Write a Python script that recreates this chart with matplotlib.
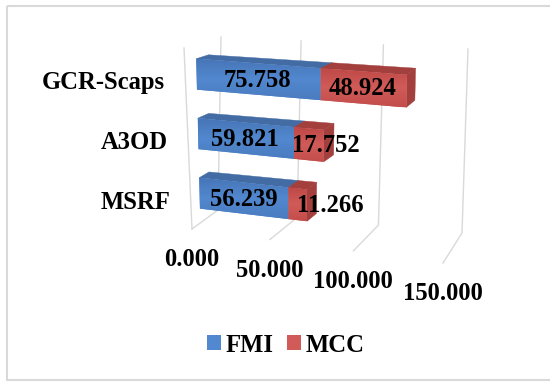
import numpy as np
import matplotlib.pyplot as plt
from matplotlib.patches import Polygon, Rectangle, Patch
from matplotlib.colors import LinearSegmentedColormap

# data
categories = ['GCR-Scaps', 'A3OD', 'MSRF']
fmi = [75.758, 59.821, 56.239]
mcc = [48.924, 17.752, 11.266]
ticks = [0, 50, 100, 150]
tick_labels = ['0.000', '50.000', '100.000', '150.000']
series = ['FMI', 'MCC']

VMAX = 150.0

# corners of the 3d plot box in pixel space (value 0 -> value VMAX)
FRONT_BOTTOM = np.array([[192, 229], [443, 263]], float)
FRONT_TOP = np.array([[184, 48], [447, 70]], float)
BACK_BOTTOM = np.array([[218, 210], [462, 233]], float)
BACK_TOP = np.array([[221, 37], [468, 49]], float)
WARP_FRONT, WARP_BACK = 0.90, 0.96

BAR_D0, BAR_D1 = 0.32, 0.66   # depth range of the bars
BAR_FRAC = 0.52               # bar height as share of a category slot

FONT = dict(family='Liberation Serif', weight='bold', size=17.7)
GRID_COLOR = '#D9D9D9'

BLUE = dict(front=('#4675B6', '#5288CF', '#4A7CC0'), top='#436CA4', end='#3A5F94')
RED = dict(front=('#BD4845', '#D15B58', '#C24D4A'), top='#A3403D', end='#A33F3C')


def warp(u, c):
    return c * u / (1 + (c - 1) * u)


def proj(v, h, d):
    """value, height (0..1), depth (0 front .. 1 back) -> pixel x, y"""
    u = v / VMAX
    uf, ub = warp(u, WARP_FRONT), warp(u, WARP_BACK)
    fb = FRONT_BOTTOM[0] + uf * (FRONT_BOTTOM[1] - FRONT_BOTTOM[0])
    ft = FRONT_TOP[0] + uf * (FRONT_TOP[1] - FRONT_TOP[0])
    bb = BACK_BOTTOM[0] + ub * (BACK_BOTTOM[1] - BACK_BOTTOM[0])
    bt = BACK_TOP[0] + ub * (BACK_TOP[1] - BACK_TOP[0])
    front = fb + h * (ft - fb)
    back = bb + h * (bt - bb)
    return front + d * (back - front)


def shaded_face(ax, pts, colors, z):
    poly = Polygon(pts, closed=True, facecolor=colors[1], edgecolor='none', zorder=z)
    ax.add_patch(poly)
    cmap = LinearSegmentedColormap.from_list('face', list(colors))
    grad = np.linspace(0, 1, 64)[:, None]
    xs, ys = pts[:, 0], pts[:, 1]
    im = ax.imshow(grad, cmap=cmap, aspect='auto', zorder=z + 0.1,
                   extent=(xs.min(), xs.max(), ys.max(), ys.min()))
    im.set_clip_path(poly)


def flat_face(ax, pts, color, z):
    ax.add_patch(Polygon(pts, closed=True, facecolor=color, edgecolor=color,
                         linewidth=0.3, zorder=z))


def draw_segment(ax, v0, v1, h0, h1, style, z):
    front = np.array([proj(v0, h0, BAR_D0), proj(v1, h0, BAR_D0),
                      proj(v1, h1, BAR_D0), proj(v0, h1, BAR_D0)])
    top = np.array([proj(v0, h1, BAR_D0), proj(v1, h1, BAR_D0),
                    proj(v1, h1, BAR_D1), proj(v0, h1, BAR_D1)])
    end = np.array([proj(v1, h0, BAR_D0), proj(v1, h1, BAR_D0),
                    proj(v1, h1, BAR_D1), proj(v1, h0, BAR_D1)])
    flat_face(ax, end, style['end'], z)
    flat_face(ax, top, style['top'], z)
    shaded_face(ax, front, style['front'], z + 0.2)


fig = plt.figure(figsize=(5.5, 3.83), dpi=100)
ax = fig.add_axes([0, 0, 1, 1])

# gridlines: back wall + floor, plus the front edge of the side wall
for t in ticks:
    p_bt, p_bb, p_fb = proj(t, 1, 1), proj(t, 0, 1), proj(t, 0, 0)
    ax.plot([p_bt[0], p_bb[0], p_fb[0]], [p_bt[1], p_bb[1], p_fb[1]],
            color=GRID_COLOR, lw=1.0, zorder=1, solid_joinstyle='miter')
p0, p1 = proj(0, 0, 0), proj(0, 1, 0)
ax.plot([p0[0], p1[0]], [p0[1], p1[1]], color=GRID_COLOR, lw=1.0, zorder=1)

# tick labels under the floor front edge
for t, lab in zip(ticks, tick_labels):
    x, y = proj(t, 0, 0)
    ax.text(x, y + 31, lab, ha='center', va='center', **FONT)

n = len(categories)
mcc_shift = [0, 17, 33]   # MCC labels pushed right of short segments
for i, cat in enumerate(categories):
    hc = (n - 1 - i + 0.5) / n
    h0, h1 = hc - BAR_FRAC / n / 2, hc + BAR_FRAC / n / 2
    z = 2 + i
    draw_segment(ax, 0, fmi[i], h0, h1, BLUE, z)
    draw_segment(ax, fmi[i], fmi[i] + mcc[i], h0, h1, RED, z + 0.5)

    x, y = proj(fmi[i] / 2, hc, BAR_D0)
    ax.text(x, y + 1, f'{fmi[i]:.3f}', ha='center', va='center', zorder=10, **FONT)
    x, y = proj(fmi[i] + mcc[i] / 2, hc, BAR_D0)
    ax.text(x + mcc_shift[i], y + 1, f'{mcc[i]:.3f}', ha='center', va='center',
            zorder=10, **FONT)

    x, y = proj(0, hc, 0)
    ax.text(x - 20, y + 4, cat, ha='right', va='center', **FONT)

# legend
handles = [Patch(facecolor=BLUE['front'][1], edgecolor='none'),
           Patch(facecolor=RED['front'][1], edgecolor='none')]
fig.legend(handles, series, loc='center', bbox_to_anchor=(0.52, 0.099), ncol=2,
           frameon=False, handlelength=0.55, handleheight=0.55, handletextpad=0.2,
           columnspacing=0.55, prop=FONT)

# chart border
ax.add_patch(Rectangle((7, 6), 546, 374, fill=False, edgecolor='#D9D9D9',
                       lw=1.5, clip_on=False, zorder=0))

ax.set_xlim(0, 550)
ax.set_ylim(383, 0)
ax.axis('off')

fig.savefig('out.png', dpi=100)
